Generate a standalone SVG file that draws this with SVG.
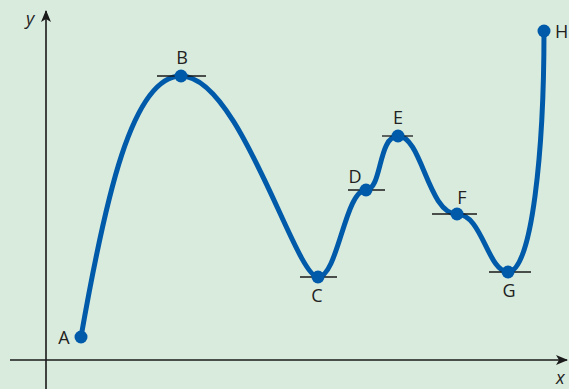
<svg xmlns="http://www.w3.org/2000/svg" width="569" height="389" viewBox="0 0 569 389">
<defs>
<style>
.ax{stroke:#1a1a1a;stroke-width:1.6;fill:none}
.tg{stroke:#1a1a1a;stroke-width:1.3}
.curve{stroke:#005aaa;stroke-width:5;fill:none;stroke-linecap:round}
.pt{fill:#005aaa}
.lb{font-family:"Open Sans","Liberation Sans",sans-serif;font-size:18px;fill:#222}
.al{font-family:"Open Sans","Liberation Sans",sans-serif;font-size:18px;font-style:italic;fill:#222}
</style>
<marker id="ah" viewBox="0 0 12 10" refX="11" refY="5" markerWidth="12" markerHeight="10" markerUnits="userSpaceOnUse" orient="auto">
<path d="M0,0 L12,5 L0,10 L3,5 Z" fill="#1a1a1a"/>
</marker>
</defs>
<rect width="569" height="389" fill="#d9ebdd"/>
<g id="axes">
<line class="ax" x1="46" y1="389" x2="46" y2="11" marker-end="url(#ah)"/>
<line class="ax" x1="10" y1="360" x2="567" y2="360" marker-end="url(#ah)"/>
<text class="al" x="26" y="25">y</text>
<text class="al" x="556" y="384">x</text>
</g>
<g id="connectors">
<path class="curve" d="M81,337 C105,200 132,76 181,76 C240,76 295,277 318,277 C338,277 345,190 366,190 C382,190 378,136 398,136 C422,136 428,214 457,214 C482,214 488,272 508,272 C532,272 544,150 544,31"/>
</g>
<g id="A"><circle class="pt" cx="81" cy="337" r="6.5"/><text class="lb" x="64" y="344" text-anchor="middle">A</text></g>
<g id="B"><line class="tg" x1="157" y1="76" x2="206" y2="76"/><circle class="pt" cx="181" cy="76" r="6.5"/><text class="lb" x="182" y="64" text-anchor="middle">B</text></g>
<g id="C"><line class="tg" x1="300" y1="277" x2="337" y2="277"/><circle class="pt" cx="318" cy="277" r="6.5"/><text class="lb" x="317" y="302" text-anchor="middle">C</text></g>
<g id="D"><line class="tg" x1="348" y1="190" x2="385" y2="190"/><circle class="pt" cx="366" cy="190" r="6.5"/><text class="lb" x="355" y="183" text-anchor="middle">D</text></g>
<g id="E"><line class="tg" x1="382" y1="136" x2="413" y2="136"/><circle class="pt" cx="398" cy="136" r="6.5"/><text class="lb" x="398" y="124" text-anchor="middle">E</text></g>
<g id="F"><line class="tg" x1="432" y1="214" x2="477" y2="214"/><circle class="pt" cx="457" cy="214" r="6.5"/><text class="lb" x="462" y="204" text-anchor="middle">F</text></g>
<g id="G"><line class="tg" x1="489" y1="272" x2="531" y2="272"/><circle class="pt" cx="508" cy="272" r="6.5"/><text class="lb" x="509" y="297" text-anchor="middle">G</text></g>
<g id="H"><circle class="pt" cx="544" cy="31" r="6.5"/><text class="lb" x="555" y="38">H</text></g>
</svg>
